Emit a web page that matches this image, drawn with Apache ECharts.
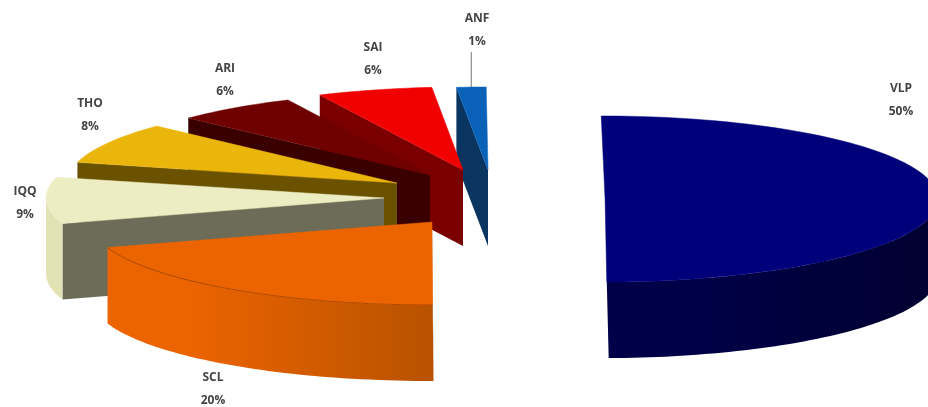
<!DOCTYPE html>
<html><head><meta charset="utf-8">
<style>html,body{margin:0;padding:0;background:#fff;overflow:hidden}#c{width:928px;height:407px;filter:blur(0.55px)}</style>
<script src="https://cdn.jsdelivr.net/npm/echarts@6/dist/echarts.min.js"></script>
</head><body><div id="c"></div>
<script>
// Data
const categories = ['VLP','SCL','IQQ','THO','ARI','SAI','ANF'];
const values = [50.1,20,9,8,5.95,5.55,1.4];

// Layout of the exploded slices (not data)
const apexX = [603,431,384,397,430,463,488];
const apexY = [199,222,198,183,175,170,170];
const radiusX = [335,340,338,330,332,335,340];
const lean = [0.025,0.012,0,0,0,0,0];
const labelX = [901,213,25,90,225,373,477];
const labelY = [100,389,203,115,80,59,30];
const radiusY = 83, depth = 76, startAngle = -0.3;

// Styles
const topColors = ['#00007a','#ec6400','#ecedc2','#eab60c','#6e0000','#f00000','#0a62b8'];
const wallColors = ['#00003e','#6c6c58','#6c6c58','#6b5200','#3a0000','#7a0000','#0a3560'];
const rimColors = [['#000048','#000030'],['#ec6400','#b85200'],['#e2e2b4','#e2e2b4'],['#6b5200','#6b5200'],['#3a0000','#3a0000'],['#7a0000','#7a0000'],['#0a3560','#0a3560']];

const total = values.reduce((a,b)=>a+b,0);
let run = 0;
const rows = values.map((v,i)=>{const s=run; run+=v; return [s,run,i];});
const drawOrder = [6,5,4,3,2,1,0];

const chart = echarts.init(document.getElementById('c'));
const rad = d => d*Math.PI/180;

function renderItem(params, api){
  const i = api.value(2);
  const a0 = api.value(0)/total*360+startAngle, a1 = api.value(1)/total*360+startAngle;
  const cx=apexX[i], cy=apexY[i], rx=radiusX[i], k=lean[i];
  const P=(a,r,z)=>{
    const x=cx+r*rx*Math.sin(rad(a)), y=cy-r*radiusY*Math.cos(rad(a))+z;
    const w=Math.max(0,1-Math.abs(x-cx)/100);
    return api.coord([x+k*(y-(cy-radiusY))*w,y]);
  };
  const arc=(from,to,z)=>{const n=Math.max(2,Math.ceil(Math.abs(to-from)/1.5)),o=[];
    for(let t=0;t<=n;t++)o.push(P(from+(to-from)*t/n,1,z));return o;};
  const kids=[];
  if(a0>=180){ // cut face that looks towards the viewer
    kids.push({type:'polygon',shape:{points:[P(a0,0,0),P(a0,1,0),P(a0,1,depth),P(a0,0,depth)]},
      style:{fill:wallColors[i]}});
  }
  const f=Math.max(a0,90), t=Math.min(a1,270);
  if(t>f){ // outer rim
    const top=arc(f,t,0), bot=arc(f,t,depth).reverse();
    kids.push({type:'polygon',shape:{points:top.concat(bot)},
      style:{fill:new echarts.graphic.LinearGradient(0,0,1,0,[
        {offset:0.25,color:rimColors[i][0]},{offset:1,color:rimColors[i][1]}])}});
  }
  kids.push({type:'polygon',shape:{points:[P(a0,0,0)].concat(arc(a0,a1,0))},
    style:{fill:topColors[i],stroke:topColors[i],lineWidth:0.5}});
  if(categories[i]==='SCL'){
    kids.push({type:'polyline',shape:{points:arc(a0,a1,0)},style:{fill:null,stroke:'#b04a00',lineWidth:1}});
  }
  if(categories[i]==='ANF'){
    const p=P((a0+a1)/2,1,0), q=api.coord([labelX[i]-4,labelY[i]+22]);
    kids.push({type:'line',shape:{x1:p[0],y1:q[1],x2:p[0],y2:p[1]},style:{stroke:'#777',lineWidth:1}});
  }
  const lp=api.coord([labelX[i],labelY[i]]);
  kids.push({type:'text',x:lp[0],y:lp[1],style:{
    text:categories[i]+'\n'+Math.round(values[i]/total*100)+'%',
    align:'center',verticalAlign:'middle',lineHeight:22.5,
    font:'700 12px "Open Sans"',fill:'#444'}});
  return {type:'group',children:kids};
}

chart.setOption({
  animation:false,
  grid:{left:0,right:0,top:0,bottom:0},
  xAxis:{type:'value',min:0,max:928,show:false},
  yAxis:{type:'value',min:0,max:407,inverse:true,show:false},
  series:[{type:'custom',clip:false,renderItem,encode:{x:0,y:1},
    data:drawOrder.map(i=>rows[i])}]
});
</script></body></html>
